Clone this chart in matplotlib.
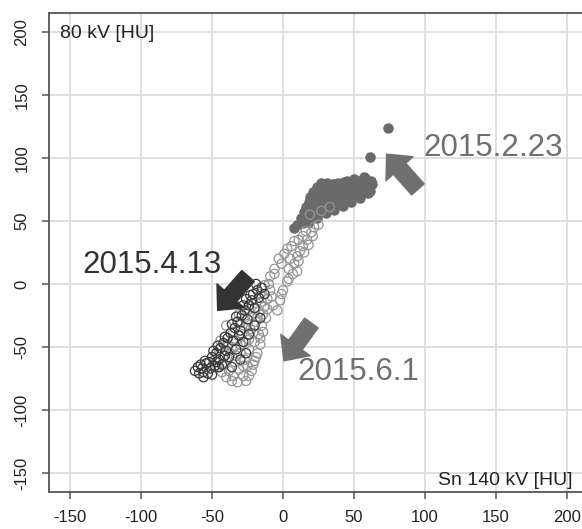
import matplotlib
matplotlib.use("Agg")
import matplotlib.pyplot as plt

# ---------------- data ----------------
x_ticks = [-150, -100, -50, 0, 50, 100, 150, 200]
y_ticks = [-150, -100, -50, 0, 50, 100, 150, 200]
x_label = "Sn 140 kV [HU]"
y_label = "80 kV [HU]"

# 2015.2.23 : filled dark-gray circles
feb23_x = [10, 14, 18, 8,
           13, 17, 21, 25,
           15, 19, 23, 27, 31,
           16, 20, 24, 28, 32, 36,
           18, 22, 26, 30, 34, 38, 42,
           19, 23, 27, 31, 35, 39, 43, 47, 51,
           21, 25, 29, 33, 37, 41, 45, 49, 53, 57, 61,
           24, 28, 32, 36, 40, 44, 48, 52, 56, 60, 63,
           27, 31, 35, 39, 43, 47, 51, 55, 59,
           45, 50, 54, 58, 62,
           24, 30, 36, 42, 48, 54, 60,
           57, 61, 74]
feb23_y = [47, 48, 49, 44,
           52, 54, 55, 56,
           57, 59, 60, 61, 62,
           61, 63, 64, 65, 66, 64,
           65, 67, 68, 69, 70, 68, 69,
           69, 71, 72, 73, 74, 72, 73, 72, 71,
           73, 75, 76, 75, 76, 77, 76, 75, 74, 73, 74,
           77, 79, 78, 79, 78, 80, 79, 78, 79, 78, 79,
           80, 80, 79, 80, 81, 80, 81, 82, 81,
           82, 83, 82, 84, 82,
           52, 56, 59, 62, 65, 68, 72,
           85, 101, 124]

# 2015.4.13 : dark open circles
apr13_x = [-62, -59, -56, -53, -60, -57, -51, -48, -54,
           -50, -47, -45, -44, -42, -40, -39, -37, -35, -34, -32, -30,
           -29, -27, -25, -24, -22, -20, -21, -18, -17, -15, -19, -13,
           -38, -33, -28, -24, -20, -16, -43, -36, -30, -26, -47,
           -58, -55, -52, -49, -46, -41, -36, -33, -28, -26, -23, -31,
           -41, -45, -56, -50]
apr13_y = [-69, -71, -70, -71, -66, -67, -67, -65, -63,
           -58, -55, -60, -51, -47, -53, -43, -39, -45, -35, -30, -37,
           -25, -21, -28, -17, -13, -19, -8, -5, -11, -3, 0, -8,
           -58, -52, -46, -40, -33, -27, -64, -66, -60, -55, -62,
           -64, -61, -62, -53, -49, -42, -32, -26, -17, -12, -9, -41,
           -57, -66, -74, -72]

# 2015.6.1 : light-gray open circles
jun1_x = [-32, -35, -28, -22, -25, -31, -38, -41, -34, -27, -20, -18, -24, -30,
          -37, -42, -45, -39, -33, -26, -20, -17, -23, -29, -35, -30, -25, -19,
          -15, -22, -17, -13, -27, -24, -19, -15, -11, -16, -9, -48, -44, -40,
          -46, -43, -40, -36, -26, -24, -21, -19, -16, -16, -14, -12, -28, -33,
          -39, -36, -30, -24, -27, -21, -31, -18, -20, -14, -11, -8,
          -13, -9, -6, -3, 3, 8, 14, 20, 22,
          -4, -2, 0, 3, 7, 8, 12, 14, 17, 5, 10, 4,
          -7, -10, -6, -1, 1, 6, 11, 16, 25, -1, 4, 10, 11, 15, 18, 21,
          19, 27, 33]
jun1_y = [-78, -73, -73, -69, -65, -68, -69, -64, -62, -60, -61, -55, -52, -55,
          -55, -57, -52, -48, -45, -47, -46, -40, -36, -40, -38, -31, -32, -30,
          -33, -25, -22, -18, -27, -20, -15, -14, -12, -8, -5, -60, -45, -33,
          -66, -70, -74, -77, -77, -73, -64, -58, -48, -43, -38, -27, -65, -57,
          -59, -50, -48, -44, -35, -39, -24, -26, -20, -24, -20, -10,
          -1, 6, 12, 20, 28, 34, 38, 41, 45,
          -21, -13, -5, 2, 8, 16, 26, 30, 35, 20, 22, 12,
          -17, 0, 8, 16, 24, 30, 35, 42, 47, -8, 4, 10, 18, 25, 31, 38,
          55, 58, 61]

annotation_texts = ["2015.2.23", "2015.4.13", "2015.6.1"]

# ---------------- figure ----------------
plt.rcParams['font.family'] = ['Liberation Sans', 'DejaVu Sans']
fig = plt.figure(figsize=(5.82, 5.29), dpi=100)
ax = fig.add_axes([49/582, (529-492)/529, 533/582, 479/529])

ax.set_xlim(-164.8, 210.6)
ax.set_ylim(-165.1, 215.0)

ax.set_xticks(x_ticks)
ax.set_yticks(y_ticks)
ax.set_xticklabels([str(v) for v in x_ticks])
ax.set_yticklabels([str(v) for v in y_ticks], rotation=90, va='center')
ax.grid(True, color='#dcdcdc', linewidth=1.3, zorder=0)
ax.set_axisbelow(True)

for s in ['left', 'bottom', 'top']:
    ax.spines[s].set_color('#555555')
    ax.spines[s].set_linewidth(1.3)
ax.spines['right'].set_visible(False)
ax.tick_params(axis='both', direction='out', length=5, width=1.1,
               color='#555555', labelsize=12, labelcolor='#222222')
ax.tick_params(axis='x', pad=8)
ax.tick_params(axis='y', pad=9)

ms = 44
ax.scatter(feb23_x, feb23_y, s=ms, facecolor='#6a6a6a', edgecolor='#6a6a6a',
           linewidth=0.9, zorder=3)
ax.scatter(jun1_x, jun1_y, s=ms, facecolor='none', edgecolor='#959595',
           linewidth=0.9, zorder=4)
ax.scatter(apr13_x, apr13_y, s=ms, facecolor='none', edgecolor='#3a3a3a',
           linewidth=0.9, zorder=5)

ax.text(0.021, 0.958, y_label, transform=ax.transAxes, fontsize=14,
        ha='left', va='center', color='#222222')
ax.text(0.983, 0.025, x_label, transform=ax.transAxes, fontsize=14,
        ha='right', va='center', color='#222222')

# annotations: text + block arrows
ann_style = [
    dict(text_xy=(98.6, 108), color='#707070', tail=(95, 75), tip=(73, 103)),
    dict(text_xy=(-141.5, 15), color='#333333', tail=(-24.6, 6.3), tip=(-46, -21)),
    dict(text_xy=(9.9, -70), color='#707070', tail=(20, -31), tip=(0.7, -61)),
]
for label, st in zip(annotation_texts, ann_style):
    ax.text(st['text_xy'][0], st['text_xy'][1], label, fontsize=22.5,
            color=st['color'], ha='left', va='center', zorder=6)
    ax.annotate('', xy=st['tip'], xytext=st['tail'],
                arrowprops=dict(arrowstyle='simple,head_length=0.7,head_width=1.3,tail_width=0.6',
                                color=st['color'], mutation_scale=20,
                                shrinkA=0, shrinkB=0),
                zorder=6)

fig.savefig('out.png', dpi=100)
